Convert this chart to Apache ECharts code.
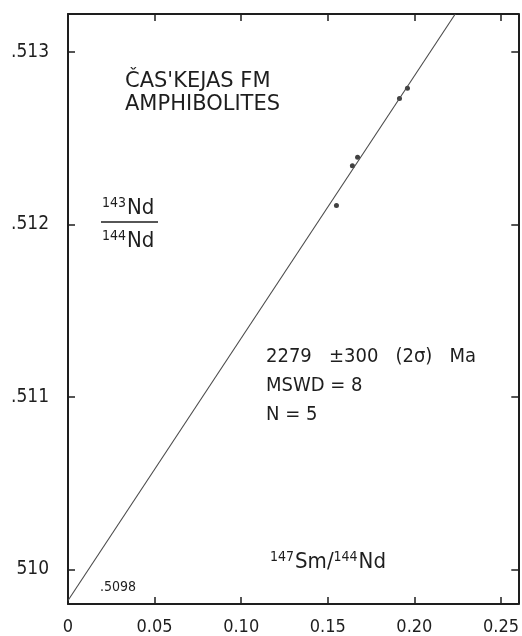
<!DOCTYPE html>
<html>
<head>
<meta charset="utf-8">
<script src="https://cdn.jsdelivr.net/npm/echarts@6/dist/echarts.min.js"></script>
<style>
  html, body { margin: 0; padding: 0; background: #fff; }
  #chart { width: 522px; height: 636px; }
</style>
</head>
<body>
<div id="chart"></div>
<script>
// Sm-Nd isochron, Čas'kejas Fm amphibolites
const sampleSmNd = [0.1550, 0.1642, 0.1672, 0.1914, 0.1960];      // 147Sm/144Nd
const sampleNdNd = [0.51211, 0.51234, 0.51239, 0.51273, 0.51279]; // 143Nd/144Nd

// regression line end points (intercept .5098)
const isochronX = [0, 0.2236];
const isochronY = [0.50982, 0.51322];

const xTickValues = [0, 0.05, 0.10, 0.15, 0.20, 0.25];
const xTickLabels = ['0', '0.05', '0.10', '0.15', '0.20', '0.25'];
const yTickValues = [0.510, 0.511, 0.512, 0.513];
const yTickLabels = ['510', '.511', '.512', '.513'];

const FONT = "'DejaVu Sans Condensed', 'Liberation Sans Narrow', 'DejaVu Sans', sans-serif";
const WIDE = "'DejaVu Sans', sans-serif";
const INK = '#1e1e1e';

function labelFor(values, labels) {
  return function (v) {
    for (let i = 0; i < values.length; i++) {
      if (Math.abs(values[i] - v) < 1e-9) return labels[i];
    }
    return '';
  };
}

const frame = { show: true, onZero: false, lineStyle: { color: INK, width: 2 } };
const innerTick = { show: true, inside: true, length: 7, lineStyle: { color: INK, width: 1.5 } };

// isotope notation: small mass number raised before the element symbol
const isoRich = {
  s: { font: '14px ' + FONT, fill: INK, verticalAlign: 'top', padding: [0, 1, 9, 0] },
  b: { font: '22px ' + FONT, fill: INK, verticalAlign: 'bottom' }
};

const chart = echarts.init(document.getElementById('chart'), null, { renderer: 'canvas' });

chart.setOption({
  backgroundColor: '#ffffff',
  animation: false,
  grid: { left: 68, right: 2, top: 14, bottom: 29 },
  xAxis: [
    {
      type: 'value', position: 'bottom', min: 0, max: 0.26,
      axisLine: frame,
      axisTick: Object.assign({}, innerTick, { customValues: xTickValues.slice(1) }),
      axisLabel: {
        customValues: xTickValues, margin: 14,
        formatter: labelFor(xTickValues, xTickLabels),
        fontFamily: FONT, fontSize: 18, color: INK
      },
      splitLine: { show: false }
    },
    {
      type: 'value', position: 'top', min: 0, max: 0.26,
      axisLine: frame,
      axisTick: Object.assign({}, innerTick, { customValues: xTickValues.slice(1) }),
      axisLabel: { show: false },
      splitLine: { show: false }
    }
  ],
  yAxis: [
    {
      type: 'value', position: 'left', min: 0.5098, max: 0.51322, scale: true,
      axisLine: frame,
      axisTick: Object.assign({}, innerTick, { customValues: yTickValues }),
      axisLabel: {
        customValues: yTickValues, margin: 19,
        formatter: labelFor(yTickValues, yTickLabels),
        fontFamily: FONT, fontSize: 19, color: INK
      },
      splitLine: { show: false }
    },
    {
      type: 'value', position: 'right', min: 0.5098, max: 0.51322, scale: true,
      axisLine: frame,
      axisTick: Object.assign({}, innerTick, { customValues: yTickValues }),
      axisLabel: { show: false },
      splitLine: { show: false }
    }
  ],
  series: [
    {
      type: 'line',
      data: isochronX.map((x, i) => [x, isochronY[i]]),
      showSymbol: false, clip: true,
      lineStyle: { color: '#4a4a4a', width: 1.1 },
      silent: true
    },
    {
      type: 'scatter',
      data: sampleSmNd.map((x, i) => [x, sampleNdNd[i]]),
      symbol: 'circle', symbolSize: 5,
      itemStyle: { color: '#111' }
    }
  ],
  graphic: [
    {
      type: 'text', left: 125, top: 70,
      style: { text: "ČAS'KEJAS FM\nAMPHIBOLITES", font: '21px ' + WIDE, fill: INK, lineHeight: 23 }
    },
    {
      type: 'text', left: 102, top: 196,
      style: { text: '{s|143}{b|Nd}', rich: isoRich }
    },
    {
      type: 'line', shape: { x1: 101, y1: 222, x2: 158, y2: 222 },
      style: { stroke: INK, lineWidth: 1.6 }
    },
    {
      type: 'text', left: 102, top: 229,
      style: { text: '{s|144}{b|Nd}', rich: isoRich }
    },
    {
      type: 'text', left: 266, top: 342,
      style: {
        text: '2279   ±300   (2σ)   Ma\nMSWD = 8\nN = 5',
        font: '20px ' + FONT, fill: INK, lineHeight: 29
      }
    },
    {
      type: 'text', left: 270, top: 550,
      style: { text: '{s|147}{b|Sm/}{s|144}{b|Nd}', rich: isoRich }
    },
    {
      type: 'text', left: 100, top: 580,
      style: { text: '.5098', font: '14px ' + FONT, fill: INK }
    }
  ]
});
</script>
</body>
</html>
